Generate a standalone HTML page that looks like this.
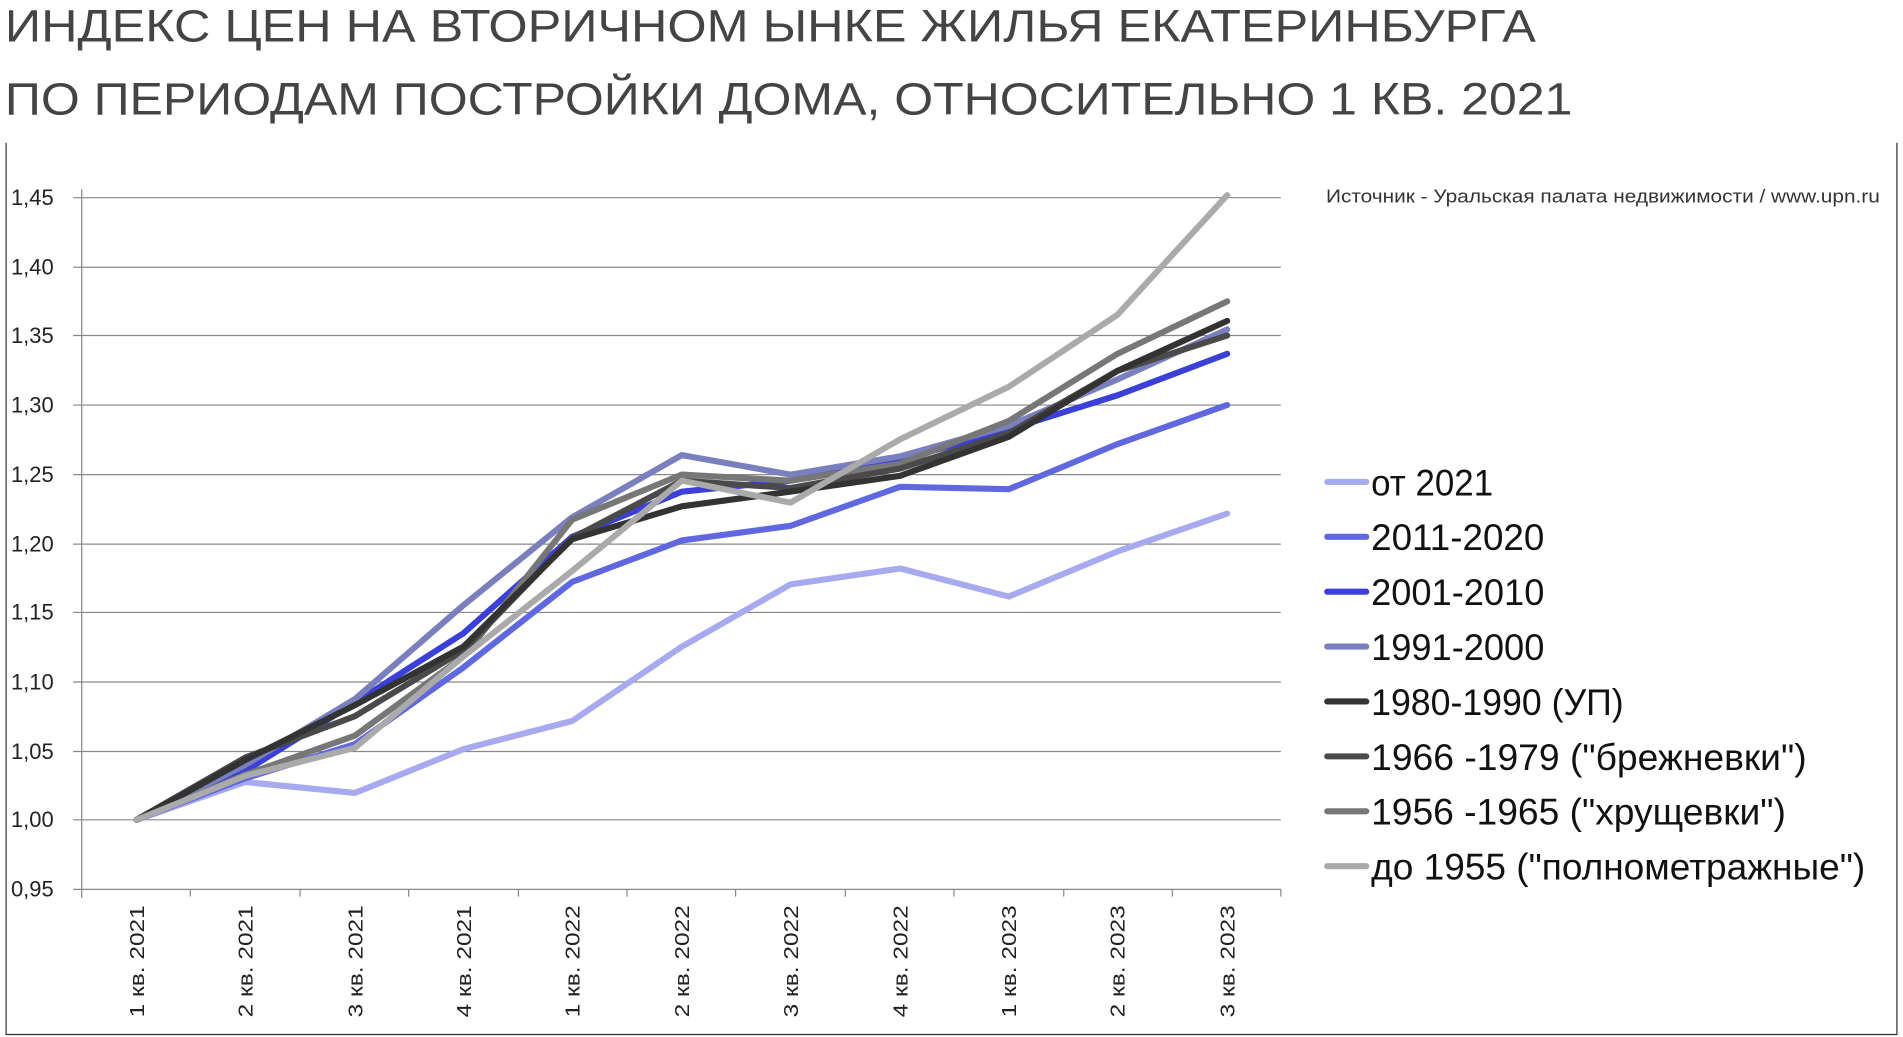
<!DOCTYPE html>
<html><head><meta charset="utf-8"><style>html,body{margin:0;padding:0;background:#fff}svg{display:block}</style></head>
<body>
<svg width="1903" height="1037" viewBox="0 0 1560 850" xmlns="http://www.w3.org/2000/svg" font-family="Liberation Sans Narrow, Liberation Sans, sans-serif">
<rect width="1560" height="850" fill="#fff"/>
<text x="4" y="34" font-size="37" fill="#444" textLength="1255" lengthAdjust="spacingAndGlyphs">ИНДЕКС ЦЕН НА ВТОРИЧНОМ ЫНКЕ ЖИЛЬЯ ЕКАТЕРИНБУРГА</text>
<text x="4" y="94" font-size="37" fill="#444" textLength="1285" lengthAdjust="spacingAndGlyphs">ПО ПЕРИОДАМ ПОСТРОЙКИ ДОМА, ОТНОСИТЕЛЬНО 1 КВ. 2021</text>
<path d="M5 117V848H1555V117" fill="none" stroke="#333" stroke-width="1"/>
<g stroke="#888" stroke-width="1">
<line x1="60" x2="1050" y1="162" y2="162"/><line x1="60" x2="1050" y1="219" y2="219"/><line x1="60" x2="1050" y1="275" y2="275"/><line x1="60" x2="1050" y1="332" y2="332"/><line x1="60" x2="1050" y1="389" y2="389"/><line x1="60" x2="1050" y1="446" y2="446"/><line x1="60" x2="1050" y1="502" y2="502"/><line x1="60" x2="1050" y1="559" y2="559"/><line x1="60" x2="1050" y1="616" y2="616"/><line x1="60" x2="1050" y1="672" y2="672"/><line x1="60" x2="1050" y1="729" y2="729"/>
<line x1="67" x2="67" y1="155" y2="736"/>
<path d="M156 729v6M246 729v6M335 729v6M425 729v6M514 729v6M603 729v6M693 729v6M782 729v6M872 729v6M961 729v6M1050 729v6"/>
</g>
<g font-size="18" fill="#222" font-family="Liberation Sans, sans-serif">
<text x="9" y="168">1,45</text><text x="9" y="225">1,40</text><text x="9" y="281">1,35</text><text x="9" y="338">1,30</text><text x="9" y="395">1,25</text><text x="9" y="452">1,20</text><text x="9" y="508">1,15</text><text x="9" y="565">1,10</text><text x="9" y="622">1,05</text><text x="9" y="678">1,00</text><text x="9" y="735">0,95</text>
</g>
<g font-size="17" fill="#222" font-family="Liberation Sans, sans-serif" text-anchor="end">
<text transform="translate(118,742) rotate(-90)" textLength="92" lengthAdjust="spacingAndGlyphs">1 кв. 2021</text>
<text transform="translate(207,742) rotate(-90)" textLength="92" lengthAdjust="spacingAndGlyphs">2 кв. 2021</text>
<text transform="translate(297,742) rotate(-90)" textLength="92" lengthAdjust="spacingAndGlyphs">3 кв. 2021</text>
<text transform="translate(386,742) rotate(-90)" textLength="92" lengthAdjust="spacingAndGlyphs">4 кв. 2021</text>
<text transform="translate(475,742) rotate(-90)" textLength="92" lengthAdjust="spacingAndGlyphs">1 кв. 2022</text>
<text transform="translate(565,742) rotate(-90)" textLength="92" lengthAdjust="spacingAndGlyphs">2 кв. 2022</text>
<text transform="translate(654,742) rotate(-90)" textLength="92" lengthAdjust="spacingAndGlyphs">3 кв. 2022</text>
<text transform="translate(744,742) rotate(-90)" textLength="92" lengthAdjust="spacingAndGlyphs">4 кв. 2022</text>
<text transform="translate(833,742) rotate(-90)" textLength="92" lengthAdjust="spacingAndGlyphs">1 кв. 2023</text>
<text transform="translate(922,742) rotate(-90)" textLength="92" lengthAdjust="spacingAndGlyphs">2 кв. 2023</text>
<text transform="translate(1012,742) rotate(-90)" textLength="92" lengthAdjust="spacingAndGlyphs">3 кв. 2023</text>
</g>
<g fill="none" stroke-width="5" stroke-linejoin="round" stroke-linecap="round">
<polyline stroke="#a8aaf0" points="112,672 201,641 291,650 380,614 469,591 559,530 648,479 738,466 827,489 916,452 1006,421"/>
<polyline stroke="#6068e0" points="112,672 201,638 291,610 380,547 469,477 559,443 648,431 738,399 827,401 916,364 1006,332"/>
<polyline stroke="#3a40d8" points="112,672 201,632 291,576 380,519 469,440 559,403 648,394 738,377 827,352 916,324 1006,290"/>
<polyline stroke="#7a7fbd" points="112,672 201,627 291,573 380,496 469,424 559,373 648,389 738,374 827,349 916,311 1006,270"/>
<polyline stroke="#777" points="112,672 201,635 291,603 380,538 469,426 559,389 648,394 738,380 827,345 916,290 1006,247"/>
<polyline stroke="#4a4a4a" points="112,672 201,621 291,587 380,533 469,441 559,394 648,400 738,384 827,355 916,304 1006,275"/>
<polyline stroke="#333" points="112,672 201,623 291,578 380,530 469,442 559,415 648,403 738,390 827,358 916,304 1006,263"/>
<polyline stroke="#aaa" points="112,672 201,636 291,613 380,538 469,468 559,394 648,412 738,360 827,317 916,258 1006,160"/>
</g>
<text x="1087" y="166" font-size="15" fill="#333" textLength="454" lengthAdjust="spacingAndGlyphs">Источник - Уральская  палата недвижимости / www.upn.ru</text>
<g stroke-width="5" stroke-linecap="round">
<line x1="1088" x2="1120" y1="395" y2="395" stroke="#a8aaf0"/>
<line x1="1088" x2="1120" y1="440" y2="440" stroke="#6068e0"/>
<line x1="1088" x2="1120" y1="485" y2="485" stroke="#3a40d8"/>
<line x1="1088" x2="1120" y1="530" y2="530" stroke="#7a7fbd"/>
<line x1="1088" x2="1120" y1="575" y2="575" stroke="#333"/>
<line x1="1088" x2="1120" y1="620" y2="620" stroke="#4a4a4a"/>
<line x1="1088" x2="1120" y1="665" y2="665" stroke="#777"/>
<line x1="1088" x2="1120" y1="710" y2="710" stroke="#aaa"/>
</g>
<g font-size="30" fill="#111">
<text x="1124" y="406" textLength="100" lengthAdjust="spacingAndGlyphs">от 2021</text>
<text x="1124" y="451" textLength="142" lengthAdjust="spacingAndGlyphs">2011-2020</text>
<text x="1124" y="496" textLength="142" lengthAdjust="spacingAndGlyphs">2001-2010</text>
<text x="1124" y="541" textLength="142" lengthAdjust="spacingAndGlyphs">1991-2000</text>
<text x="1124" y="586" textLength="207" lengthAdjust="spacingAndGlyphs">1980-1990 (УП)</text>
<text x="1124" y="631" textLength="357" lengthAdjust="spacingAndGlyphs">1966 -1979 ("брежневки")</text>
<text x="1124" y="676" textLength="340" lengthAdjust="spacingAndGlyphs">1956 -1965 ("хрущевки")</text>
<text x="1124" y="721" textLength="405" lengthAdjust="spacingAndGlyphs">до 1955 ("полнометражные")</text>
</g>
</svg>
</body></html>
